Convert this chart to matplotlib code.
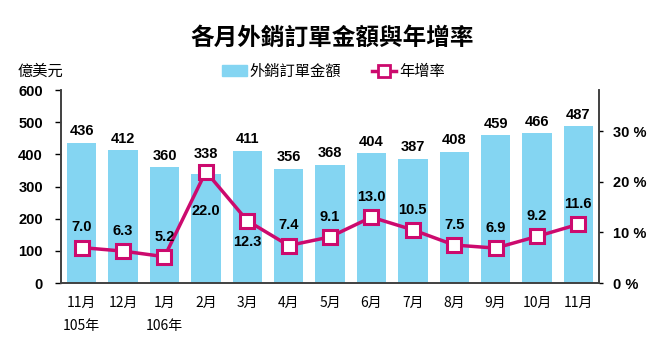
import matplotlib
matplotlib.use("Agg")
import matplotlib.pyplot as plt
from matplotlib.patches import Patch
from matplotlib.lines import Line2D

months = ["11月\n105年", "12月", "1月\n106年", "2月", "3月", "4月", "5月",
          "6月", "7月", "8月", "9月", "10月", "11月"]
orders = [436, 412, 360, 338, 411, 356, 368, 404, 387, 408, 459, 466, 487]
growth = [7.0, 6.3, 5.2, 22.0, 12.3, 7.4, 9.1, 13.0, 10.5, 7.5, 6.9, 9.2, 11.6]

bar_color = "#84D5F2"
line_color = "#CC0A6E"

num_font = "Liberation Sans"
cjk = ["Noto Sans CJK TC", "DejaVu Sans"]

fig = plt.figure(figsize=(6.61, 3.41), dpi=100)
ax = fig.add_axes([0.0923, 0.170, 0.814, 0.566])
ax2 = ax.twinx()

x = list(range(len(months)))
ax.bar(x, orders, width=0.71, color=bar_color, zorder=1)
ax.set_xlim(-0.5, len(months) - 0.5)
ax.set_ylim(0, 600)
ax.set_yticks(range(0, 601, 100))
ax.set_xticks(x)
ax.set_xticklabels(months, family=cjk, fontsize=10, linespacing=1.9, va="top")
ax.tick_params(axis="x", length=0, pad=9)
ax.tick_params(axis="y", length=4, width=1, direction="out", pad=9)
for lab in ax.get_yticklabels():
    lab.set_family(num_font)
    lab.set_fontweight("bold")
    lab.set_fontsize(10.5)

# 2月 bar label is pushed up to clear the line marker
for i, (xi, v) in enumerate(zip(x, orders)):
    off = 40 if i == 3 else 14
    ax.text(xi, v + off, str(v), ha="center", va="bottom", family=num_font,
            fontweight="bold", fontsize=10.5)

ax2.plot(x, growth, color=line_color, lw=2.5, marker="s", markersize=10,
         markerfacecolor="white", markeredgecolor=line_color,
         markeredgewidth=2.2, zorder=3)
ax2.set_ylim(0, 38.1)
ax2.set_yticks([0, 10, 20, 30])
ax2.set_yticklabels(["0 %", "10 %", "20 %", "30 %"])
ax2.tick_params(axis="y", length=3, width=1, direction="out", pad=7)
for lab in ax2.get_yticklabels():
    lab.set_family(num_font)
    lab.set_fontweight("bold")
    lab.set_fontsize(10.5)

# labels for 2月 and 3月 sit under their markers
for i, (xi, g) in enumerate(zip(x, growth)):
    if i == 3:
        ax2.text(xi, g - 6.4, f"{g:.1f}", ha="center", va="top",
                 family=num_font, fontweight="bold", fontsize=10.5, zorder=4)
    elif i == 4:
        ax2.text(xi, g - 2.8, f"{g:.1f}", ha="center", va="top",
                 family=num_font, fontweight="bold", fontsize=10.5, zorder=4)
    else:
        ax2.text(xi, g + 2.6, f"{g:.1f}", ha="center", va="bottom",
                 family=num_font, fontweight="bold", fontsize=10.5, zorder=4)

for a in (ax, ax2):
    a.spines["top"].set_visible(False)
    for s in ("left", "right", "bottom"):
        a.spines[s].set_color("#404040")
        a.spines[s].set_linewidth(1.2)

fig.text(0.503, 0.888, "各月外銷訂單金額與年增率", ha="center", va="center",
         family=cjk, fontweight="bold", fontsize=17)
fig.text(0.027, 0.79, "億美元", ha="left", va="center", family=cjk, fontsize=11)

handles = [Patch(color=bar_color),
           Line2D([], [], color=line_color, lw=2.5, marker="s", markersize=8,
                  markerfacecolor="white", markeredgecolor=line_color,
                  markeredgewidth=2)]
fig.legend(handles, ["外銷訂單金額", "年增率"], loc="center",
           bbox_to_anchor=(0.505, 0.79), ncol=2, frameon=False,
           prop={"family": cjk, "size": 11}, handlelength=1.6,
           handletextpad=0.2, columnspacing=2.0)

fig.savefig("out.png", dpi=100)
